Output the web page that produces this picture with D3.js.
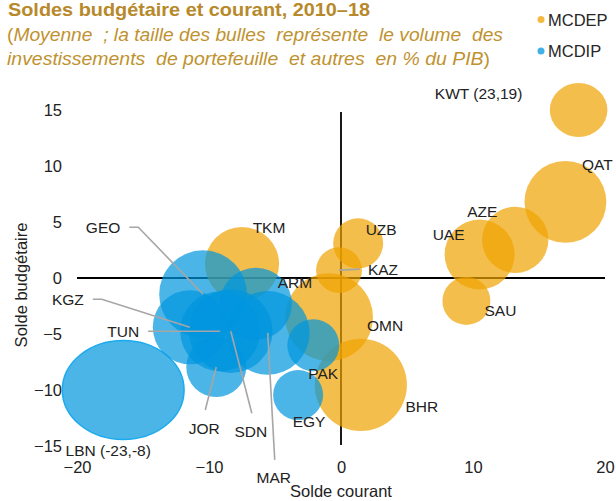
<!DOCTYPE html>
<html>
<head>
<meta charset="utf-8">
<script src="https://cdnjs.cloudflare.com/ajax/libs/d3/7.8.5/d3.min.js"></script>
<style>
  body { margin: 0; background: #fff; }
  svg text { font-family: "Liberation Sans", Arial, sans-serif; }
</style>
</head>
<body>
<div id="chart"></div>
<script>
// MCDEP : pays exportateurs de pétrole
var depCodes   = ["KWT", "QAT", "AZE", "UAE", "SAU", "UZB", "KAZ", "TKM", "OMN", "BHR"];
var depCourant = [18.0, 17.0, 13.2, 10.5, 9.5, 1.3, -0.15, -7.5, -0.9, 1.5];
var depBudget  = [15.0, 6.8, 3.4, 2.1, -2.05, 3.1, 0.7, 1.25, -3.5, -9.55];
var depVolume  = [29, 67, 44, 49, 23, 25, 21, 55, 77, 85];

// MCDIP : pays importateurs de pétrole
var dipCodes   = ["LBN", "GEO", "KGZ", "TUN", "SDN", "MAR", "ARM", "JOR", "PAK", "EGY"];
var dipCourant = [-16.5, -10.45, -11.45, -9.15, -8.35, -5.55, -6.45, -9.45, -2.1, -3.25];
var dipBudget  = [-10.0, -1.45, -4.4, -4.75, -4.75, -4.9, -2.3, -7.95, -6.0, -10.45];
var dipVolume  = [98, 77, 55, 64, 70, 70, 52, 36, 27, 25];

// valeurs hors échelle, indiquées dans l'étiquette
var outOfRange = { KWT: "KWT (23,19)", LBN: "LBN (-23,-8)" };

var seriesNames = ["MCDEP", "MCDIP"];
var xTicks = [-20, -10, 0, 10, 20];
var yTicks = [-15, -10, -5, 0, 5, 10, 15];

var titleText = "Soldes budgétaire et courant, 2010–18";
var subLine1 = "Moyenne  ; la taille des bulles  représente  le volume  des";
var subLine2 = "investissements  de portefeuille  et autres  en % du PIB";

var width = 616, height = 501;
var colors = { MCDEP: "#EFA200", MCDIP: "#0096DE" };

// position des étiquettes (décalage en px par rapport au centre de la bulle)
var labelPos = {
  KWT: [-100, -17], QAT: [32, -37], AZE: [-33, -28], UAE: [-31, -20], SAU: [34, 10],
  UZB: [23, -14], KAZ: [44, -1], TKM: [27, -37], OMN: [56, 8], BHR: [61, 22],
  LBN: [-15, 60], GEO: [-100, -67], KGZ: [-122, -28], TUN: [-97, 0], SDN: [20, 100],
  MAR: [6, 145], ARM: [39, -21], JOR: [-12, 61], PAK: [10, 28], EGY: [11, 26]
};
var leaders = { GEO: "left", KGZ: "left", TUN: "left", KAZ: "right", JOR: "below", SDN: "below", MAR: "below" };
// bulles dessinées à la main hors échelle : légèrement étirées
var stretchX = { LBN: 1.23, KWT: 1.07 };

var svg = d3.select("#chart")
  .append("svg")
  .attr("width", width)
  .attr("height", height);

var x = d3.scaleLinear().domain([-20, 20]).range([77, 605]);
var y = d3.scaleLinear().domain([-15, 15]).range([446, 110]);
var r = d3.scaleSqrt().domain([0, 100]).range([0, 50]);

// titre
svg.append("text")
  .attr("x", 8)
  .attr("y", 15.5)
  .attr("font-size", 18.5)
  .attr("font-weight", "bold")
  .attr("fill", "#B8892A")
  .attr("textLength", 362)
  .attr("lengthAdjust", "spacingAndGlyphs")
  .text(titleText);

var sub1 = svg.append("text")
  .attr("x", 7)
  .attr("y", 41)
  .attr("font-size", 19)
  .attr("fill", "#C0922F")
  .style("white-space", "pre")
  .attr("textLength", 496)
  .attr("lengthAdjust", "spacingAndGlyphs");
sub1.append("tspan").text("(");
sub1.append("tspan").attr("font-style", "italic").text(subLine1);

var sub2 = svg.append("text")
  .attr("x", 7)
  .attr("y", 65)
  .attr("font-size", 19)
  .attr("fill", "#C0922F")
  .style("white-space", "pre")
  .attr("textLength", 483)
  .attr("lengthAdjust", "spacingAndGlyphs");
sub2.append("tspan").attr("font-style", "italic").text(subLine2);
sub2.append("tspan").text(")");

// légende
var legend = svg.append("g").attr("class", "legend");
seriesNames.forEach(function(name, i) {
  var ly = 19.5 + i * 31.5;
  legend.append("circle")
    .attr("cx", 541)
    .attr("cy", ly)
    .attr("r", 3.5)
    .attr("fill", colors[name])
    .attr("fill-opacity", 0.75);
  legend.append("text")
    .attr("x", 548)
    .attr("y", ly)
    .attr("dominant-baseline", "central")
    .attr("font-size", 16.5)
    .attr("fill", "#262626")
    .text(name);
});

// axes (libellés seulement, les lignes passent par zéro)
var yAxis = svg.append("g")
  .attr("transform", "translate(62,0)")
  .call(d3.axisLeft(y).tickValues(yTicks).tickSize(0).tickPadding(0));
var xAxis = svg.append("g")
  .attr("transform", "translate(0,461)")
  .call(d3.axisBottom(x).tickValues(xTicks).tickSize(0).tickPadding(0));
[xAxis, yAxis].forEach(function(a) {
  a.select(".domain").remove();
  a.selectAll("text")
    .attr("font-family", "Liberation Sans, Arial, sans-serif")
    .attr("font-size", 16.5)
    .attr("fill", "#222");
});

svg.append("line")
  .attr("x1", x.range()[0]).attr("x2", x.range()[1])
  .attr("y1", y(0)).attr("y2", y(0))
  .attr("stroke", "#000").attr("stroke-width", 1.8);
svg.append("line")
  .attr("x1", x(0)).attr("x2", x(0))
  .attr("y1", y.range()[1] + 2).attr("y2", y.range()[0] - 1)
  .attr("stroke", "#000").attr("stroke-width", 1.8);

svg.append("text")
  .attr("transform", "translate(27,285) rotate(-90)")
  .attr("text-anchor", "middle")
  .attr("font-size", 16.5)
  .attr("fill", "#222")
  .text("Solde budgétaire");
svg.append("text")
  .attr("x", 341)
  .attr("y", 497)
  .attr("text-anchor", "middle")
  .attr("font-size", 16.5)
  .attr("fill", "#222")
  .text("Solde courant");

function makeSeries(name, codes, courant, budget, volume) {
  return codes.map(function(c, i) {
    return { series: name, code: c, cx: courant[i], cy: budget[i], size: volume[i] };
  });
}
var series = [
  makeSeries("MCDEP", depCodes, depCourant, depBudget, depVolume),
  makeSeries("MCDIP", dipCodes, dipCourant, dipBudget, dipVolume)
];
var allPoints = series[0].concat(series[1]);

// bulles
series.forEach(function(data) {
  svg.append("g")
    .attr("class", "bubbles")
    .selectAll("ellipse")
    .data(data)
    .enter()
    .append("ellipse")
    .attr("cx", function(d) { return x(d.cx); })
    .attr("cy", function(d) { return y(d.cy); })
    .attr("rx", function(d) { return r(d.size) * (stretchX[d.code] || 1); })
    .attr("ry", function(d) { return r(d.size); })
    .attr("fill", function(d) { return colors[d.series]; })
    .attr("fill-opacity", 0.7)
    .attr("stroke", function(d) { return d.code == "LBN" ? "#1AAAEE" : "none"; })
    .attr("stroke-width", 1.5);
});

// étiquettes
var gLabels = svg.append("g").attr("class", "labels");
var gLeaders = svg.append("g").attr("class", "leaders");
allPoints.forEach(function(d) {
  var px = x(d.cx), py = y(d.cy);
  var off = labelPos[d.code];
  var lx = px + off[0], ly = py + off[1];
  var t = gLabels.append("text")
    .attr("x", lx)
    .attr("y", ly)
    .attr("text-anchor", "middle")
    .attr("dominant-baseline", "central")
    .attr("font-size", 15.5)
    .attr("fill", "#222")
    .text(outOfRange[d.code] || d.code);
  var kind = leaders[d.code];
  if (!kind) return;
  var box = t.node().getBBox();
  var pts;
  if (kind == "left") {
    var sx = box.x + box.width + 9;
    pts = [[sx, ly], [sx + 9, ly], [px, py]];
  } else if (kind == "below") {
    pts = [[lx + 1, ly - 18], [px, py]];
  } else {
    pts = [[px, py], [box.x - 8, ly]];
  }
  gLeaders.append("path")
    .attr("d", d3.line()(pts))
    .attr("fill", "none")
    .attr("stroke", "#A6A6A6")
    .attr("stroke-width", 1.6);
});
</script>
</body>
</html>
